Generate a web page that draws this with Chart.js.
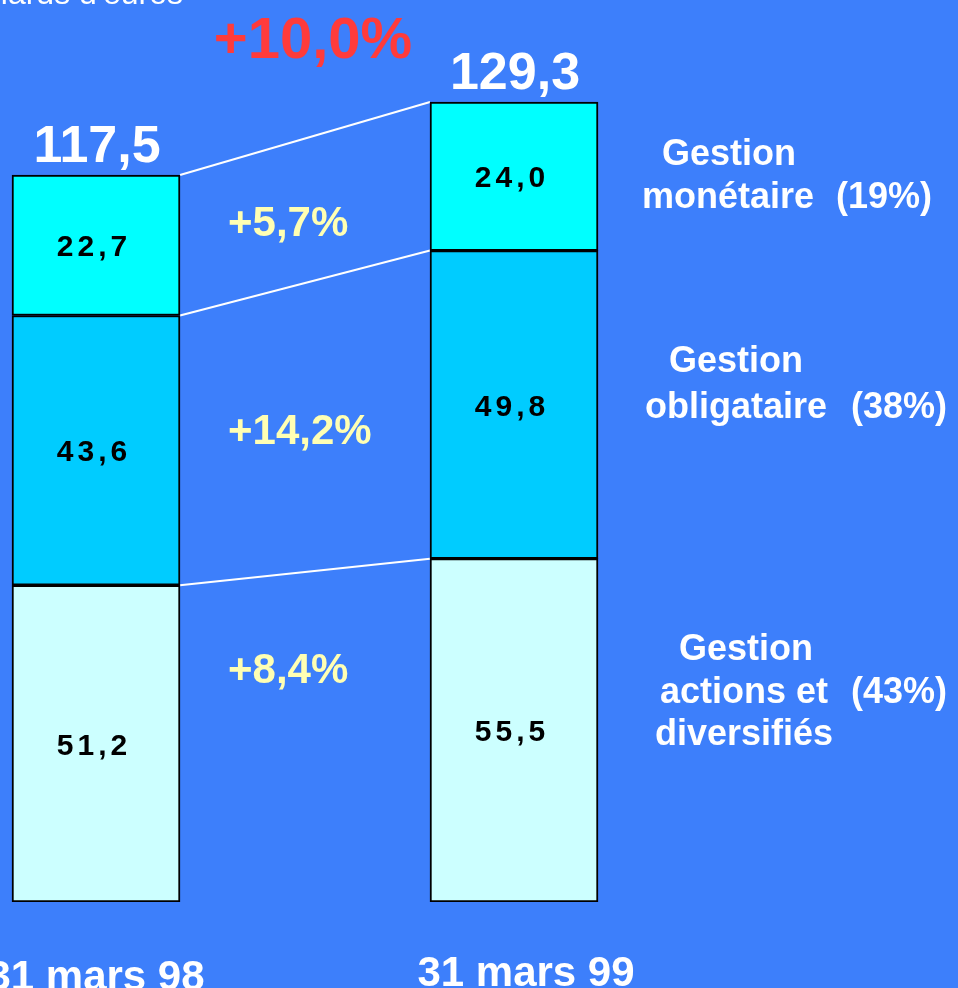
<!DOCTYPE html>
<html>
<head>
<meta charset="utf-8">
<script src="https://cdn.jsdelivr.net/npm/chart.js@4"></script>
<style>
  html, body { margin: 0; padding: 0; background: #3d7ffb; }
  #wrap { width: 958px; height: 988px; }
</style>
</head>
<body>
<div id="wrap"><canvas id="encours"></canvas></div>
<script>
const dates = ['31 mars 98', '31 mars 99'];
const actions = [51.2, 55.5];
const obligataire = [43.6, 49.8];
const monetaire = [22.7, 24.0];
const totals = [117.5, 129.3];
const totalGrowth = '+10,0%';
const growth = ['+8,4%', '+14,2%', '+5,7%'];   // actions, obligataire, monetaire
const shares = ['(43%)', '(38%)', '(19%)'];
const unitLabel = "Milliards d'euros";

const FONT = '"Liberation Sans", Arial, sans-serif';

function fmt(v) {
  return v.toFixed(1).replace('.', ',');
}

function pts(arr) {
  return arr.map((v, i) => ({ x: i, y: v }));
}

const overlay = {
  id: 'overlay',
  beforeDatasetsDraw(chart) {
    // connecting lines between the stacks
    const ctx = chart.ctx;
    const metas = [0, 1, 2].map(i => chart.getDatasetMeta(i).data);
    const half = metas[0][0].width / 2;
    ctx.save();
    ctx.strokeStyle = '#ffffff';
    ctx.lineWidth = 2;
    metas.forEach(m => {
      ctx.beginPath();
      ctx.moveTo(m[0].x + half, m[0].y);
      ctx.lineTo(m[1].x - half, m[1].y);
      ctx.stroke();
    });
    ctx.restore();
  },
  afterDatasetsDraw(chart) {
    const ctx = chart.ctx;
    const x = chart.scales.x, y = chart.scales.y;
    const series = [actions, obligataire, monetaire];
    ctx.save();

    // values inside segments
    ctx.fillStyle = '#000000';
    ctx.font = 'bold 30px ' + FONT;
    ctx.letterSpacing = '4px';
    ctx.textAlign = 'center';
    ctx.textBaseline = 'alphabetic';
    dates.forEach((d, i) => {
      let base = 0;
      series.forEach(s => {
        const mid = y.getPixelForValue(base + s[i] / 2);
        ctx.fillText(fmt(s[i]), x.getPixelForValue(i) - 2, mid + 11);
        base += s[i];
      });
    });
    ctx.letterSpacing = '0px';

    // totals
    ctx.fillStyle = '#ffffff';
    ctx.font = 'bold 52px ' + FONT;
    totals.forEach((t, i) => {
      ctx.fillText(fmt(t), x.getPixelForValue(i) + 1, y.getPixelForValue(t) - 13);
    });

    // overall growth
    ctx.fillStyle = '#ff3b3b';
    ctx.font = 'bold 58px ' + FONT;
    ctx.fillText(totalGrowth, 313, 58);

    // segment growth
    ctx.fillStyle = '#ffffb3';
    ctx.font = 'bold 42px ' + FONT;
    ctx.textAlign = 'left';
    [683, 444, 236].forEach((yy, k) => ctx.fillText(growth[k], 228, yy));

    // dates
    ctx.fillStyle = '#ffffff';
    ctx.font = 'bold 42px ' + FONT;
    ctx.textAlign = 'center';
    ctx.fillText(dates[0], 96, 990);
    ctx.fillText(dates[1], 526, 986);

    // unit
    ctx.font = '32px ' + FONT;
    ctx.textAlign = 'right';
    ctx.fillText(unitLabel, 183, 4);

    // category names
    ctx.font = 'bold 36px ' + FONT;
    ctx.textAlign = 'left';
    ctx.fillText('Gestion', 662, 165);
    ctx.fillText('monétaire', 642, 208);
    ctx.fillText(shares[2], 836, 208);
    ctx.fillText('Gestion', 669, 372);
    ctx.fillText('obligataire', 645, 418);
    ctx.fillText(shares[1], 851, 418);
    ctx.fillText('Gestion', 679, 660);
    ctx.fillText('actions et', 660, 703);
    ctx.fillText(shares[0], 851, 703);
    ctx.fillText('diversifiés', 655, 745);
    ctx.restore();
  }
};

new Chart(document.getElementById('encours').getContext('2d'), {
  type: 'bar',
  data: {
    datasets: [
      { label: 'Gestion actions et diversifiés', data: pts(actions), backgroundColor: '#ccffff' },
      { label: 'Gestion obligataire', data: pts(obligataire), backgroundColor: '#00ccff' },
      { label: 'Gestion monétaire', data: pts(monetaire), backgroundColor: '#00ffff' }
    ].map(d => Object.assign(d, {
      borderColor: '#000000',
      borderWidth: 2,
      borderSkipped: false,
      barThickness: 168
    }))
  },
  options: {
    responsive: true,
    maintainAspectRatio: false,
    animation: false,
    layout: { padding: { left: 0, right: 0, top: 0, bottom: 86 } },
    plugins: { legend: { display: false }, tooltip: { enabled: false } },
    scales: {
      x: { type: 'linear', stacked: true, display: false, offset: false, min: -0.2297, max: 2.0622 },
      y: { stacked: true, display: false, min: 0, max: 145.8 }
    }
  },
  plugins: [overlay]
});
</script>
</body>
</html>
